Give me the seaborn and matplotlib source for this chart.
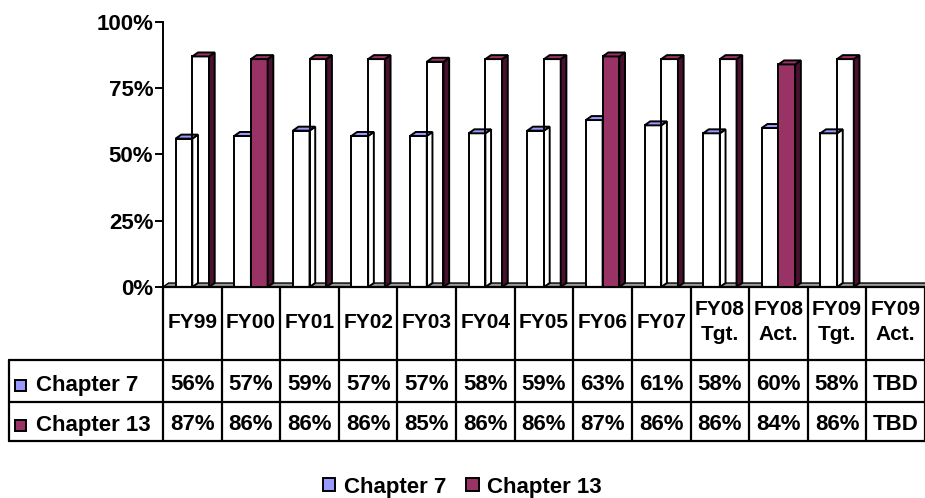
import numpy as np
import pandas as pd
import seaborn as sns
import matplotlib
matplotlib.use("Agg")
import matplotlib.pyplot as plt
from matplotlib.patches import Polygon, Patch, Rectangle
from matplotlib.lines import Line2D
import matplotlib.transforms as mtransforms

# ---------------- data ----------------
categories = ["FY99", "FY00", "FY01", "FY02", "FY03", "FY04", "FY05", "FY06",
              "FY07", "FY08\nTgt.", "FY08\nAct.", "FY09\nTgt.", "FY09\nAct."]
chapter7 = [56, 57, 59, 57, 57, 58, 59, 63, 61, 58, 60, 58, np.nan]
chapter13 = [87, 86, 86, 86, 85, 86, 86, 87, 86, 86, 84, 86, np.nan]
series_names = ["Chapter 7", "Chapter 13"]
ytick_values = [0, 25, 50, 75, 100]
highlighted = ["FY00", "FY06", "FY08\nAct."]   # Chapter 13 bars drawn filled

# ---------------- style ----------------
sns.set_style("white")
plt.rcParams["font.family"] = ["Liberation Sans", "DejaVu Sans"]
plt.rcParams["font.weight"] = "bold"
for k in ["text.color", "axes.labelcolor", "xtick.color", "ytick.color", "axes.edgecolor"]:
    plt.rcParams[k] = "black"

C7 = "#9999FF"
C13 = "#993366"
C13_SIDE = "#4a1230"
FS = 16
BLW = 1.4

W, H = 925, 498
fig = plt.figure(figsize=(W / 100, H / 100), dpi=100)
ax_left, ax_bottom_px, ax_top_px = 163, 287, 22
ax = fig.add_axes([ax_left / W, 1 - ax_bottom_px / H, 1 - ax_left / W,
                   (ax_bottom_px - ax_top_px) / H])

df = pd.DataFrame({
    "category": categories * 2,
    "series": [series_names[0]] * len(categories) + [series_names[1]] * len(categories),
    "value": list(chapter7) + list(chapter13),
})

sns.barplot(data=df, x="category", y="value", hue="series", order=categories,
            hue_order=series_names, palette={series_names[0]: "white", series_names[1]: "white"},
            width=0.57, ax=ax, legend=False, errorbar=None, saturation=1)

ax.set_xlim(-0.5, len(categories) - 0.5)
ax.set_ylim(0, 100)

# 3D depth
dx = 0.097
dy = 1.5

# floor
floor = Polygon([(-0.5, 0), (len(categories) - 0.5, 0),
                 (len(categories) - 0.5 + dx, dy), (-0.5 + dx, dy)],
                closed=True, facecolor="#9a9a9a", edgecolor="black", lw=1.0,
                zorder=1, clip_on=False)
ax.add_patch(floor)

for si, cont in enumerate(ax.containers):
    for bar in cont:
        h = bar.get_height()
        if not np.isfinite(h) or h == 0:
            continue
        x0 = bar.get_x()
        w = bar.get_width()
        idx = int(round(x0 + w / 2 + (0.1425 if si == 0 else -0.1425)))
        cat = categories[idx]
        z = 2 if si == 0 else 4
        if si == 0:
            front = "white"
            top_c = C7
            side_c = "white"
        else:
            front = C13 if cat in highlighted else "none"
            top_c = C13
            side_c = C13_SIDE
        bar.set_facecolor(front)
        bar.set_edgecolor("black")
        bar.set_linewidth(BLW)
        bar.set_zorder(z)
        side = Polygon([(x0 + w, 0), (x0 + w + dx, dy), (x0 + w + dx, h + dy), (x0 + w, h)],
                       closed=True, facecolor=side_c, edgecolor="black", lw=BLW, zorder=z)
        top = Polygon([(x0, h), (x0 + dx, h + dy), (x0 + w + dx, h + dy), (x0 + w, h)],
                      closed=True, facecolor=top_c, edgecolor="black", lw=BLW, zorder=z)
        ax.add_patch(side)
        ax.add_patch(top)

# axes styling
for s in ["top", "right"]:
    ax.spines[s].set_visible(False)
ax.spines["left"].set_color("black")
ax.spines["left"].set_linewidth(1.4)
ax.spines["bottom"].set_color("black")
ax.spines["bottom"].set_linewidth(1.6)
ax.set_yticks(ytick_values)
ax.set_yticklabels([f"{v}%" for v in ytick_values], fontsize=FS, fontweight="bold")
ax.tick_params(axis="y", direction="out", length=6, width=1.4, pad=1, color="black", left=True)
ax.tick_params(axis="x", bottom=False, labelbottom=False)
ax.set_xlabel("")
ax.set_ylabel("")

# ---------------- data table ----------------
axh = ax_bottom_px - ax_top_px
def ay(px):
    return -(px - ax_bottom_px) / axh

xt = ax.get_xaxis_transform()
ft = mtransforms.blended_transform_factory(fig.transFigure, ax.transAxes)

y_head_bot = ay(360)
y_r1_bot = ay(402)
y_r2_bot = ay(441)
LW = 1.6

for i in range(len(categories) + 1):
    ax.add_line(Line2D([i - 0.5, i - 0.5], [0, y_r2_bot], transform=xt, color="black",
                       lw=LW, clip_on=False))
for yy in [y_head_bot, y_r1_bot, y_r2_bot]:
    ax.add_line(Line2D([9 / W, 1.0], [yy, yy], transform=ft, color="black", lw=LW, clip_on=False))
ax.add_line(Line2D([9 / W, 9 / W], [y_head_bot, y_r2_bot], transform=ft, color="black",
                   lw=LW, clip_on=False))

for i, cat in enumerate(categories):
    ax.text(i, ay(322), cat, transform=xt, ha="center", va="center", fontsize=FS - 1,
            fontweight="bold", linespacing=1.35, multialignment="center")

row_y = [ay(385), ay(425)]
for r, (name, vals, col) in enumerate(zip(series_names, [chapter7, chapter13], [C7, C13])):
    ax.text(36 / W, row_y[r], name, transform=ft, ha="left", va="center",
            fontsize=FS, fontweight="bold")
    sq = Rectangle((15 / W, row_y[r] - 6 / axh), 11 / W, 11 / axh, transform=ft,
                   facecolor=col, edgecolor="black", lw=1.4, clip_on=False)
    ax.add_patch(sq)
    for i, v in enumerate(vals):
        txt = "TBD" if not np.isfinite(v) else f"{int(v)}%"
        ax.text(i, row_y[r], txt, transform=xt, ha="center", va="center",
                fontsize=FS, fontweight="bold")

# ---------------- legend ----------------
handles = [Patch(facecolor=C7, edgecolor="black", lw=1.4),
           Patch(facecolor=C13, edgecolor="black", lw=1.4)]
fig.legend(handles, series_names, loc="center", bbox_to_anchor=(0.5, 1 - 487 / H),
           ncol=2, frameon=False, prop={"size": FS, "weight": "bold"},
           handlelength=0.55, handleheight=0.55, handletextpad=0.4, columnspacing=0.9)

fig.savefig("out.png", dpi=100)
